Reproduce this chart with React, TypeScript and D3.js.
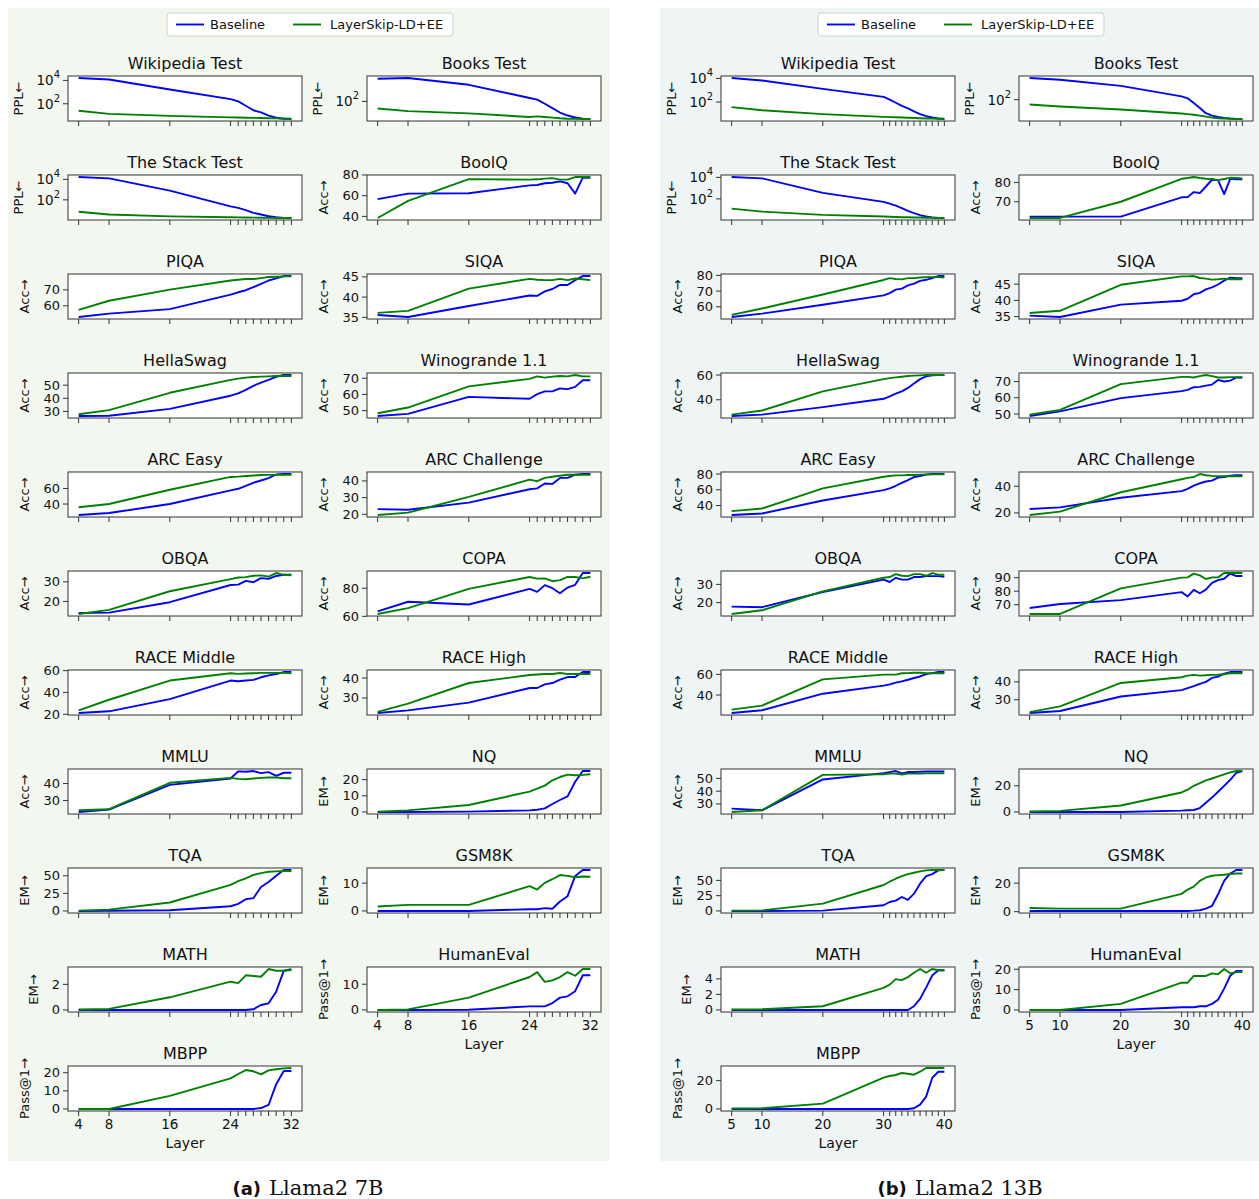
import * as d3 from "d3";

const FONT = "'DejaVu Sans', sans-serif";
const BLUE = "#0000ff";
const GREEN = "#008000";

// layers at which the early exit was evaluated
const layers7 = [4, 8, 16, 24, 25, 26, 27, 28, 29, 30, 31, 32];
const layers13 = [5, 10, 20, 30, 31, 32, 33, 34, 35, 36, 37, 38, 39, 40];
const xLabels7 = [4, 8, 16, 24, 32];
const xLabels13 = [5, 10, 20, 30, 40];

// ---- Llama2 7B ----
const wiki7B = [16000, 12000, 1650, 250, 160, 68, 28, 18, 9.5, 6.3, 5.2, 5.0];
const wiki7S = [25, 13.5, 9.2, 6.8, 6.6, 6.4, 6.2, 6.0, 5.8, 5.6, 5.4, 5.2];
const books7B = [4800, 5400, 1700, 180, 135, 67, 32, 15, 9, 6.4, 5.3, 5.0];
const books7S = [30, 19, 13, 7, 7.8, 7, 6.3, 5.6, 5.2, 5.1, 5.0, 5.0];
const stack7B = [17000, 12500, 810, 23, 16.5, 9.8, 5.4, 3.7, 2.5, 2.0, 1.7, 1.7];
const stack7S = [6.8, 3.7, 2.4, 2.0, 1.95, 1.9, 1.85, 1.8, 1.75, 1.7, 1.7, 1.7];
const boolq7B = [56.7, 62, 62.3, 70, 70.3, 72, 72.5, 73.8, 72, 62, 77.5, 77.3];
const boolq7S = [38.5, 55, 76, 75.5, 75.8, 76.5, 77, 75.5, 75.5, 78, 78, 78];
const piqa7B = [53, 55.1, 57.9, 67, 68.5, 69.8, 71.7, 73.8, 75.9, 77.2, 78.7, 78.7];
const piqa7S = [57.5, 63.2, 70.2, 75.9, 76.4, 76.8, 76.8, 77.4, 78.1, 78.3, 78.5, 78.5];
const siqa7B = [35.6, 35.1, 37.8, 40.4, 40.3, 41.4, 42, 43, 43, 44.2, 45.2, 45.2];
const siqa7S = [36.1, 36.6, 42.1, 44.5, 44.3, 44.2, 44.2, 44.5, 44.2, 44.6, 44.4, 44.2];
const hella7B = [26.6, 26.8, 32, 42, 43.8, 46.4, 49.5, 52, 54, 56.4, 57.7, 57.7];
const hella7S = [27.9, 31, 44.2, 54, 55, 55.7, 56.2, 56.5, 56.7, 57, 57, 57];
const wino7B = [46.7, 48, 58.5, 57.3, 60.2, 61.9, 61.9, 63.7, 63.3, 64.7, 68.8, 68.8];
const wino7S = [48.4, 51.9, 65, 69.6, 71.2, 70.4, 71, 71.4, 71.2, 72, 71.2, 71.2];
const arcE7B = [26, 28.5, 40, 57.5, 59.6, 63.4, 67.3, 70.2, 73.2, 77.9, 78.5, 78.5];
const arcE7S = [35.8, 40, 58.4, 74.8, 75.2, 76, 76.6, 77.2, 77.5, 77.5, 77.5, 77.5];
const arcC7B = [23.1, 22.7, 27, 35, 35.5, 38.4, 38.2, 41.8, 41.8, 43.7, 44.1, 44.1];
const arcC7S = [19.6, 21, 30.4, 40.8, 39.8, 41.8, 42.5, 43.1, 43.7, 43.7, 43.7, 43.7];
const obqa7B = [14.1, 14.3, 19.6, 28.4, 28.6, 30.5, 29.8, 31.9, 31.5, 33, 33.6, 33.6];
const obqa7S = [13.6, 15.7, 25.2, 31.4, 32.2, 32.4, 33.1, 33.3, 32.7, 34.5, 33.6, 33.4];
const copa7B = [63.6, 70.4, 68.4, 79.5, 77.4, 82.2, 80, 76.4, 80.5, 82.4, 90.8, 90.8];
const copa7S = [61.7, 65.8, 79.5, 88, 86.8, 87, 85, 85.8, 88, 88, 87, 88.2];
const raceM7B = [21.2, 22.7, 33.9, 50.9, 50.3, 50.9, 51.5, 53.9, 55.7, 56.9, 58.7, 58.7];
const raceM7S = [23.6, 33.3, 50.9, 57.6, 57.0, 57.3, 57.6, 57.9, 57.9, 57.9, 57.9, 57.6];
const raceH7B = [22.5, 23.8, 27.7, 35, 35, 36.8, 37.5, 39.2, 40.5, 40.5, 43, 43];
const raceH7S = [23, 27.2, 37.5, 41.5, 41.8, 42, 42, 42.5, 42, 42, 42, 42];
const mmlu7B = [23.3, 24.7, 39.2, 42.9, 47.1, 46.9, 47.3, 46.1, 46.7, 44.5, 46.3, 46.3];
const mmlu7S = [24.3, 24.9, 40.4, 43.3, 42.7, 42.5, 42.9, 43.3, 43.5, 43.5, 43.1, 43.1];
const nq7B = [0, 0, 0.2, 1.0, 1.4, 2.2, 4.9, 7.4, 9.6, 18.7, 25.3, 25.3];
const nq7S = [0.2, 1, 4.3, 12.6, 14.4, 16.3, 19.6, 21.6, 23.1, 22.7, 22.9, 23.3];
const tqa7B = [0, 0.2, 0.9, 6.7, 10, 16.7, 18.2, 34, 41.3, 50, 58.2, 58.2];
const tqa7S = [0.5, 1.9, 12, 37, 42.3, 46.2, 51.4, 53.8, 55.7, 56.3, 56.8, 56.8];
const gsm7B = [0, 0, 0, 0.6, 0.6, 1.0, 0.8, 3.4, 5.3, 12.6, 14.7, 14.7];
const gsm7S = [1.6, 2.2, 2.2, 8.9, 7.7, 10.1, 11.4, 12.9, 12.6, 12.1, 12.4, 12.3];
const math7B = [0, 0, 0, 0, 0, 0, 0.05, 0.39, 0.52, 1.43, 3.07, 3.18];
const math7S = [0.03, 0.08, 0.99, 2.21, 2.1, 2.71, 2.66, 2.6, 3.2, 3.07, 3.07, 3.12];
const he7B = [0, 0, 0.1, 1.4, 1.4, 1.4, 2.7, 4.8, 5.3, 7.3, 13.5, 13.5];
const he7S = [0, 0.2, 4.8, 12.8, 14.7, 10.9, 11.5, 12.8, 14.7, 13.3, 15.9, 15.9];
const mbpp7B = [0, 0, 0, 0, 0, 0, 0, 0.5, 2.2, 13.7, 21, 21];
const mbpp7S = [0, 0, 7.2, 16.9, 19.3, 21.5, 20.8, 19.1, 21.3, 21.9, 22.4, 22.6];

// ---- Llama2 13B ----
const wiki13B = [10700, 6700, 1300, 270, 160, 87, 48, 29, 16, 9.4, 6.3, 4.9, 4.0, 3.7];
const wiki13S = [37, 20, 9.4, 5.5, 5.3, 5.1, 4.9, 4.7, 4.5, 4.3, 4.1, 4.0, 3.9, 3.8];
const books13B = [3700, 2800, 1000, 175, 125, 57, 25, 10.5, 7, 5.6, 4.8, 4.3, 4.0, 4.0];
const books13S = [45, 32, 19.5, 10, 9, 8, 7, 5.9, 5, 4.5, 4.3, 4.1, 4.0, 4.0];
const stack13B = [10700, 8100, 360, 53, 37, 24, 14, 7.8, 4.7, 3.1, 2.3, 1.9, 1.7, 1.7];
const stack13S = [12.6, 6.6, 3.3, 2.3, 2.2, 2.1, 2.0, 2.0, 1.9, 1.9, 1.8, 1.8, 1.7, 1.7];
const boolq13B = [62.3, 62.3, 62.3, 72.3, 72.4, 75, 74.5, 77.9, 81.4, 81.2, 73.9, 81.9, 81.6, 81.6];
const boolq13S = [61.6, 61.6, 70, 81.9, 82.3, 82.8, 82.3, 81.9, 81.8, 81.2, 81.8, 82.4, 82.3, 82.1];
const piqa13B = [53.5, 55.6, 61.3, 67.3, 68.7, 70.9, 71.6, 73.7, 74.8, 76.5, 77.2, 78.3, 79.6, 79.6];
const piqa13S = [54.8, 58.9, 67.8, 77.1, 78.3, 77.7, 77.5, 78.3, 78.3, 78.7, 78.9, 78.9, 78.9, 78.7];
const siqa13B = [35.3, 34.9, 38.7, 39.9, 40.5, 41.9, 42.3, 43.4, 44, 44.9, 46.1, 47, 46.8, 46.8];
const siqa13S = [36.1, 36.8, 44.8, 47.4, 47.4, 47.5, 46.9, 46.7, 46.4, 46.5, 46.7, 46.5, 46.5, 46.5];
const hella13B = [26.9, 28, 34, 40.8, 42.7, 44.9, 46.8, 49.6, 53.1, 56.7, 58.9, 59.7, 60, 60];
const hella13S = [28, 31.3, 46.8, 56.7, 57.5, 58.1, 58.6, 59.2, 59.5, 59.7, 60, 60, 60, 60];
const wino13B = [48.8, 51.6, 59.8, 64.1, 64.9, 66.5, 66.7, 67.5, 68.1, 71, 70, 70.6, 72.5, 72.5];
const wino13S = [49.6, 52.5, 68.4, 72.9, 72.9, 72.5, 73.3, 74, 73.3, 72.5, 72.5, 72.7, 72.7, 72.5];
const arcE13B = [28, 29.8, 46.4, 59.6, 61.7, 65.1, 68.9, 72.4, 76.2, 77.5, 79.2, 80, 80, 80];
const arcE13S = [32.8, 36.2, 61.7, 76.6, 77.5, 78.3, 78.3, 78.7, 78.7, 79.2, 79.6, 79.6, 79.6, 79.6];
const arcC13B = [23, 24.2, 31.4, 36.3, 38, 40.5, 42.2, 43.5, 44.2, 46.4, 46.9, 47.9, 48.2, 48.2];
const arcC13S = [18.5, 21, 35.5, 45.2, 46.2, 46.9, 49.1, 48.2, 47.7, 47.4, 47.4, 47.4, 47.4, 47.4];
const obqa13B = [17.8, 17.5, 25.8, 32.6, 31.3, 33.6, 32.6, 32.6, 34, 34, 34.5, 34.5, 34.5, 34.2];
const obqa13S = [13.8, 15.8, 26.2, 33.6, 34, 35.6, 34.7, 34.5, 35.6, 35.6, 34.7, 36.2, 35.3, 35.3];
const copa13B = [67.6, 70.5, 73.4, 79.3, 76.1, 81, 78.5, 81.2, 86.1, 88.2, 89.2, 93, 91.2, 91.2];
const copa13S = [63.2, 63.2, 82.1, 90, 90.2, 93, 91.7, 89, 90.2, 90.2, 93.4, 93.4, 93.4, 93.4];
const raceM13B = [22.6, 25.2, 41.3, 49.1, 50.4, 52, 53.3, 54.8, 56.5, 58, 60.3, 61.3, 62.3, 62.3];
const raceM13S = [25.8, 29.7, 55.2, 59.8, 59.8, 59.8, 61.1, 61.3, 61.6, 61.6, 61.3, 61.1, 61.1, 61.1];
const raceH13B = [22.6, 23.7, 31.8, 35.4, 36.5, 37.6, 38.9, 40, 42.2, 42.9, 44.6, 45.5, 45.5, 45.5];
const raceH13S = [23.1, 26.3, 39.4, 42.6, 43.5, 43.9, 43.5, 43.7, 43.9, 44, 44.3, 44.8, 45, 44.8];
const mmlu13B = [26.3, 25, 49.2, 54.2, 55, 55.8, 54, 55, 55, 55.3, 55.5, 55.5, 55.5, 55.5];
const mmlu13S = [23.7, 25, 52.8, 53.3, 53.8, 53.8, 53, 53.8, 53.8, 53.8, 54, 54, 54, 54];
const nq13B = [0, 0, 0, 1.0, 1.3, 1.5, 3, 7, 11, 15.5, 20, 24.5, 30, 31.3];
const nq13S = [0.3, 0.8, 4.9, 14.9, 17, 20, 22, 24.1, 25.6, 27.2, 28.7, 30.3, 31.3, 31.3];
const tqa13B = [0, 0, 0.5, 9.3, 14.7, 16.9, 22.8, 18, 28.3, 44.6, 57, 60.3, 66.4, 66.9];
const tqa13S = [0.5, 1, 12, 42.4, 47.8, 52.7, 57, 60.3, 62.5, 64.7, 66.4, 66.9, 66.9, 66.9];
const gsm13B = [0.5, 0.5, 0.5, 0.5, 0.5, 0.7, 1.0, 2.1, 4, 12.2, 21.6, 26.8, 29.2, 29.2];
const gsm13S = [2.6, 2.1, 2.1, 12.5, 15.5, 17.6, 21.6, 24, 25.2, 25.6, 25.9, 26.4, 26.8, 26.8];
const math13B = [0, 0, 0, 0, 0, 0, 0, 0, 0.48, 1.43, 2.87, 4.43, 5.1, 5.1];
const math13S = [0.05, 0.1, 0.48, 2.83, 3.26, 3.96, 3.83, 4.22, 4.78, 5.26, 4.78, 5.26, 5.1, 5.1];
const he13B = [0, 0, 0, 1.3, 1.3, 1.3, 1.8, 1.8, 3, 5, 10.5, 16.8, 19.2, 19.2];
const he13S = [0, 0, 3, 13.4, 13.4, 16.7, 16.7, 16.7, 18, 17.5, 20.1, 18, 18.6, 18.6];
const mbpp13B = [0, 0, 0, 0, 0, 0, 0, 0, 0.5, 3.1, 8.7, 21.9, 26.3, 26.3];
const mbpp13S = [0.3, 0.5, 3.8, 22.1, 23.3, 24, 25.4, 24.9, 24.2, 26.3, 28.9, 28.9, 28.9, 28.9];

type Bench = {
  title: string;
  ylabel: string;
  base: number[];
  skip: number[];
  ticks: number[];
  log?: boolean;
};

const PPL = "PPL\u2190";
const ACC = "Acc\u2192";
const EM = "EM\u2192";
const PASS = "Pass@1\u2192";

// [left column, right column] for each model
const benches7: Bench[][] = [
  [
    { title: "Wikipedia Test", ylabel: PPL, base: wiki7B, skip: wiki7S, ticks: [100, 10000], log: true },
    { title: "The Stack Test", ylabel: PPL, base: stack7B, skip: stack7S, ticks: [100, 10000], log: true },
    { title: "PIQA", ylabel: ACC, base: piqa7B, skip: piqa7S, ticks: [60, 70] },
    { title: "HellaSwag", ylabel: ACC, base: hella7B, skip: hella7S, ticks: [30, 40, 50] },
    { title: "ARC Easy", ylabel: ACC, base: arcE7B, skip: arcE7S, ticks: [40, 60] },
    { title: "OBQA", ylabel: ACC, base: obqa7B, skip: obqa7S, ticks: [20, 30] },
    { title: "RACE Middle", ylabel: ACC, base: raceM7B, skip: raceM7S, ticks: [20, 40, 60] },
    { title: "MMLU", ylabel: ACC, base: mmlu7B, skip: mmlu7S, ticks: [30, 40] },
    { title: "TQA", ylabel: EM, base: tqa7B, skip: tqa7S, ticks: [0, 25, 50] },
    { title: "MATH", ylabel: EM, base: math7B, skip: math7S, ticks: [0, 2] },
    { title: "MBPP", ylabel: PASS, base: mbpp7B, skip: mbpp7S, ticks: [0, 10, 20] },
  ],
  [
    { title: "Books Test", ylabel: PPL, base: books7B, skip: books7S, ticks: [100], log: true },
    { title: "BoolQ", ylabel: ACC, base: boolq7B, skip: boolq7S, ticks: [40, 60, 80] },
    { title: "SIQA", ylabel: ACC, base: siqa7B, skip: siqa7S, ticks: [35, 40, 45] },
    { title: "Winogrande 1.1", ylabel: ACC, base: wino7B, skip: wino7S, ticks: [50, 60, 70] },
    { title: "ARC Challenge", ylabel: ACC, base: arcC7B, skip: arcC7S, ticks: [20, 30, 40] },
    { title: "COPA", ylabel: ACC, base: copa7B, skip: copa7S, ticks: [60, 80] },
    { title: "RACE High", ylabel: ACC, base: raceH7B, skip: raceH7S, ticks: [30, 40] },
    { title: "NQ", ylabel: EM, base: nq7B, skip: nq7S, ticks: [0, 10, 20] },
    { title: "GSM8K", ylabel: EM, base: gsm7B, skip: gsm7S, ticks: [0, 10] },
    { title: "HumanEval", ylabel: PASS, base: he7B, skip: he7S, ticks: [0, 10] },
  ],
];

const benches13: Bench[][] = [
  [
    { title: "Wikipedia Test", ylabel: PPL, base: wiki13B, skip: wiki13S, ticks: [100, 10000], log: true },
    { title: "The Stack Test", ylabel: PPL, base: stack13B, skip: stack13S, ticks: [100, 10000], log: true },
    { title: "PIQA", ylabel: ACC, base: piqa13B, skip: piqa13S, ticks: [60, 70, 80] },
    { title: "HellaSwag", ylabel: ACC, base: hella13B, skip: hella13S, ticks: [40, 60] },
    { title: "ARC Easy", ylabel: ACC, base: arcE13B, skip: arcE13S, ticks: [40, 60, 80] },
    { title: "OBQA", ylabel: ACC, base: obqa13B, skip: obqa13S, ticks: [20, 30] },
    { title: "RACE Middle", ylabel: ACC, base: raceM13B, skip: raceM13S, ticks: [40, 60] },
    { title: "MMLU", ylabel: ACC, base: mmlu13B, skip: mmlu13S, ticks: [30, 40, 50] },
    { title: "TQA", ylabel: EM, base: tqa13B, skip: tqa13S, ticks: [0, 25, 50] },
    { title: "MATH", ylabel: EM, base: math13B, skip: math13S, ticks: [0, 2, 4] },
    { title: "MBPP", ylabel: PASS, base: mbpp13B, skip: mbpp13S, ticks: [0, 20] },
  ],
  [
    { title: "Books Test", ylabel: PPL, base: books13B, skip: books13S, ticks: [100], log: true },
    { title: "BoolQ", ylabel: ACC, base: boolq13B, skip: boolq13S, ticks: [70, 80] },
    { title: "SIQA", ylabel: ACC, base: siqa13B, skip: siqa13S, ticks: [35, 40, 45] },
    { title: "Winogrande 1.1", ylabel: ACC, base: wino13B, skip: wino13S, ticks: [50, 60, 70] },
    { title: "ARC Challenge", ylabel: ACC, base: arcC13B, skip: arcC13S, ticks: [20, 40] },
    { title: "COPA", ylabel: ACC, base: copa13B, skip: copa13S, ticks: [70, 80, 90] },
    { title: "RACE High", ylabel: ACC, base: raceH13B, skip: raceH13S, ticks: [30, 40] },
    { title: "NQ", ylabel: EM, base: nq13B, skip: nq13S, ticks: [0, 20] },
    { title: "GSM8K", ylabel: EM, base: gsm13B, skip: gsm13S, ticks: [0, 20] },
    { title: "HumanEval", ylabel: PASS, base: he13B, skip: he13S, ticks: [0, 10, 20] },
  ],
];

const PW = 234;
const PH = 45;
const TOP0 = 76;
const ROW = 99;

type PlotProps = {
  b: Bench;
  layers: number[];
  xLabels: number[];
  left: number;
  top: number;
  showX: boolean;
};

function Plot({ b, layers, xLabels, left, top, showX }: PlotProps) {
  const [l0, l1] = d3.extent(layers) as [number, number];
  const xp = (l1 - l0) * 0.05;
  const x = d3.scaleLinear().domain([l0 - xp, l1 + xp]).range([left, left + PW]);

  const all = [...b.base, ...b.skip];
  let y: (v: number) => number;
  if (b.log) {
    const lo = Math.log10(d3.min(all)!);
    const hi = Math.log10(d3.max(all)!);
    const p = (hi - lo) * 0.05;
    y = d3.scaleLog().domain([10 ** (lo - p), 10 ** (hi + p)]).range([top + PH, top]);
  } else {
    const [lo, hi] = d3.extent(all) as [number, number];
    const p = (hi - lo) * 0.05;
    y = d3.scaleLinear().domain([lo - p, hi + p]).range([top + PH, top]);
  }

  const line = d3
    .line<number>()
    .x((_, i) => x(layers[i]))
    .y((d) => y(d));

  const bottom = top + PH;
  const maxChars = d3.max(b.ticks, (t) => String(t).length)!;
  const labelOff = b.log ? 45 : maxChars * 8.5 + 22;

  return (
    <g>
      <rect x={left} y={top} width={PW} height={PH} fill="#fff" />
      <path d={line(b.base)!} fill="none" stroke={BLUE} strokeWidth={1.9} strokeLinejoin="round" />
      <path d={line(b.skip)!} fill="none" stroke={GREEN} strokeWidth={1.9} strokeLinejoin="round" />
      <rect x={left} y={top} width={PW} height={PH} fill="none" stroke="#333" strokeWidth={1} />
      <text x={left + PW / 2} y={top - 7} textAnchor="middle" fontSize={16} fill="#111">
        {b.title}
      </text>
      {layers.map((l) => (
        <line key={l} x1={x(l)} x2={x(l)} y1={bottom} y2={bottom + 5} stroke="#333" strokeWidth={1} />
      ))}
      {showX &&
        xLabels.map((l) => (
          <text key={l} x={x(l)} y={bottom + 8} textAnchor="middle" dominantBaseline="hanging" fontSize={13.5} fill="#111">
            {l}
          </text>
        ))}
      {showX && (
        <text x={left + PW / 2} y={bottom + 27} textAnchor="middle" dominantBaseline="hanging" fontSize={14} fill="#111">
          Layer
        </text>
      )}
      {b.ticks.map((t) => (
        <g key={t}>
          <line x1={left - 5} x2={left} y1={y(t)} y2={y(t)} stroke="#333" strokeWidth={1} />
          {b.log ? (
            <text x={left - 8} y={y(t) + 5} textAnchor="end" fontSize={13.5} fill="#111">
              10
              <tspan fontSize={10} dy={-7}>
                {Math.round(Math.log10(t))}
              </tspan>
            </text>
          ) : (
            <text x={left - 8} y={y(t)} textAnchor="end" dominantBaseline="central" fontSize={13} fill="#111">
              {t}
            </text>
          )}
        </g>
      ))}
      <text
        transform={`translate(${left - labelOff},${top + PH / 2}) rotate(-90)`}
        textAnchor="middle"
        fontSize={13}
        fill="#111"
      >
        {b.ylabel}
      </text>
    </g>
  );
}

type PanelProps = {
  benches: Bench[][];
  layers: number[];
  xLabels: number[];
  bgX: number;
  bgW: number;
  bg: string;
  cols: number[];
  legendX: number;
  tag: string;
  name: string;
  capX: number;
};

function Panel({ benches, layers, xLabels, bgX, bgW, bg, cols, legendX, tag, name, capX }: PanelProps) {
  return (
    <g>
      <rect x={bgX} y={8} width={bgW} height={1153} fill={bg} />
      <g>
        <rect x={legendX} y={13} width={286} height={23} rx={3} fill="#fff" stroke="#d0d0d0" />
        <line x1={legendX + 9} x2={legendX + 37} y1={24.5} y2={24.5} stroke={BLUE} strokeWidth={1.9} />
        <text x={legendX + 43} y={24.5} dominantBaseline="central" fontSize={13} fill="#111">
          Baseline
        </text>
        <line x1={legendX + 126} x2={legendX + 154} y1={24.5} y2={24.5} stroke={GREEN} strokeWidth={1.9} />
        <text x={legendX + 163} y={24.5} dominantBaseline="central" fontSize={13} fill="#111">
          LayerSkip-LD+EE
        </text>
      </g>
      {benches.map((col, ci) =>
        col.map((b, ri) => (
          <Plot
            key={`${ci}-${ri}`}
            b={b}
            layers={layers}
            xLabels={xLabels}
            left={cols[ci]}
            top={TOP0 + ROW * ri}
            showX={ri === col.length - 1}
          />
        ))
      )}
      <text x={capX} y={1195} textAnchor="middle" fill="#111">
        <tspan fontFamily={FONT} fontWeight="bold" fontSize={18}>
          {tag}
        </tspan>
        <tspan fontFamily="'DejaVu Serif', serif" fontSize={21} dx={8}>
          {name}
        </tspan>
      </text>
    </g>
  );
}

export default function App() {
  return (
    <svg
      width={1259}
      height={1199}
      style={{ position: "absolute", left: 0, top: 0, display: "block", background: "#fff" }}
      fontFamily={FONT}
    >
      <Panel
        benches={benches7}
        layers={layers7}
        xLabels={xLabels7}
        bgX={8}
        bgW={602}
        bg="#f2f7f0"
        cols={[68, 367]}
        legendX={167}
        tag="(a)"
        name="Llama2 7B"
        capX={308}
      />
      <Panel
        benches={benches13}
        layers={layers13}
        xLabels={xLabels13}
        bgX={660}
        bgW={599}
        bg="#eff4f4"
        cols={[721, 1019]}
        legendX={818}
        tag="(b)"
        name="Llama2 13B"
        capX={960}
      />
    </svg>
  );
}
